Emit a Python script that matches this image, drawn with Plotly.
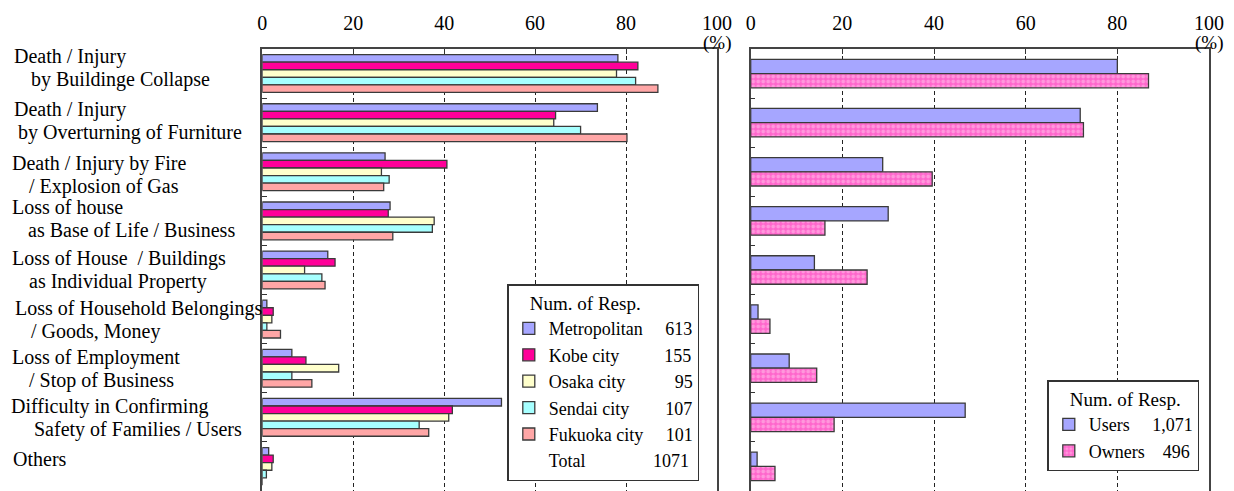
import plotly.graph_objects as go

# ---------------- data ----------------
label_line1 = ["Death / Injury", "Death / Injury", "Death / Injury by Fire", "Loss of house",
               "Loss of House\u00a0\u00a0/ Buildings", "Loss of Household Belongings",
               "Loss of Employment", "Difficulty in Confirming", "Others"]
label_line2 = ["by Buildinge Collapse", "by Overturning of Furniture", "/ Explosion of Gas",
               "as Base of Life / Business", "as Individual Property", "/ Goods, Money",
               "/ Stop of Business", "Safety of Families / Users", ""]

cities = ["Metropolitan", "Kobe city", "Osaka city", "Sendai city", "Fukuoka city"]
city_resp = ["613", "155", "95", "107", "101"]
total_resp = "1071"
metropolitan = [78.2, 73.7, 27.0, 28.1, 14.4, 1.0, 6.5, 52.6, 1.4]
kobe = [82.6, 64.5, 40.6, 27.7, 16.0, 2.4, 9.6, 41.8, 2.4]
osaka = [77.9, 64.1, 26.2, 37.8, 9.3, 2.1, 16.8, 41.0, 2.1]
sendai = [82.1, 70.0, 27.9, 37.4, 13.1, 1.0, 6.5, 34.5, 0.9]
fukuoka = [87.0, 80.2, 26.7, 28.7, 13.8, 4.0, 10.9, 36.6, 0.0]

groups = ["Users", "Owners"]
group_resp = ["1,071", "496"]
users = [80.0, 71.9, 28.8, 30.0, 13.9, 1.6, 8.4, 46.8, 1.4]
owners = [86.8, 72.6, 39.6, 16.2, 25.4, 4.2, 14.4, 18.2, 5.3]

x_ticks = [0, 20, 40, 60, 80, 100]

# ---------------- layout constants ----------------
W, H = 1234, 491
TOP = 49
FONT = "Liberation Serif, Times New Roman, serif"
NB = "\u00a0"

def px_x(px):
    return px / W

def px_y(py):
    return (H - py) / (H - TOP)

city_colors = ["#A6A6FF", "#FF0099", "#FFFFCC", "#A6FFFF", "#FFA6A6"]
city_pad = [5, 10, 11, 8, 5]
total_pad = 15
group_pad = [5, 4]
n_cat = len(label_line1)
ypos = list(range(n_cat))

fig = go.Figure()

city_values = [metropolitan, kobe, osaka, sendai, fukuoka]
bw_l = 0.154
for i, (name, vals) in enumerate(zip(cities, city_values)):
    fig.add_trace(go.Bar(
        x=vals, y=ypos, orientation="h", name=name + NB * city_pad[i] + city_resp[i],
        width=bw_l, offset=-0.385 + i * bw_l,
        marker=dict(color=city_colors[i], line=dict(color="#3a3a3a", width=1.3)),
        xaxis="x", yaxis="y", legend="legend",
    ))
# legend-only row for the total count
fig.add_trace(go.Bar(
    x=[None], y=[None], orientation="h", name="Total" + NB * total_pad + total_resp,
    marker=dict(color="rgba(0,0,0,0)", line=dict(width=0)), hoverinfo="skip",
    xaxis="x", yaxis="y", legend="legend",
))

bw_r = 0.29
fig.add_trace(go.Bar(
    x=users, y=ypos, orientation="h", name=groups[0] + NB * group_pad[0] + group_resp[0],
    width=bw_r, offset=-bw_r,
    marker=dict(color="#A6A6FF", line=dict(color="#3a3a3a", width=1.3)),
    xaxis="x2", yaxis="y2", legend="legend2",
))
fig.add_trace(go.Bar(
    x=owners, y=ypos, orientation="h", name=groups[1] + NB * group_pad[1] + group_resp[1],
    width=bw_r, offset=0,
    marker=dict(color="#FF70CC", line=dict(color="#3a3a3a", width=1.3),
                pattern=dict(shape=".", bgcolor="#FF66CC", fgcolor="#FFC8EC", size=5, solidity=0.45)),
    xaxis="x2", yaxis="y2", legend="legend2",
))

xaxis_common = dict(
    range=[0, 100], side="top", tickvals=x_ticks, ticks="inside", ticklen=5,
    tickcolor="#333", showline=True, linecolor="#444", linewidth=1.5, mirror=True,
    showgrid=True, gridcolor="#222", griddash="4px,3px", gridwidth=1,
    zeroline=False, tickfont=dict(family=FONT, size=20, color="black"),
    ticklabelstandoff=9, fixedrange=True, automargin=False,
)
yaxis_common = dict(
    range=[n_cat - 0.5, -0.5], tickvals=[k + 0.5 for k in range(n_cat - 1)],
    ticks="inside", ticklen=5, tickcolor="#333", showticklabels=False,
    showline=True, linecolor="#444", linewidth=1.5, mirror=True,
    showgrid=False, zeroline=False, domain=[0, 1], fixedrange=True, automargin=False,
)

fig.update_layout(
    width=W, height=H, margin=dict(l=0, r=0, t=TOP, b=0, pad=0, autoexpand=False),
    paper_bgcolor="white", plot_bgcolor="white", barmode="overlay",
    font=dict(family=FONT, size=18, color="black"),
    xaxis=dict(domain=[px_x(262.3), px_x(717.0)], anchor="y", **xaxis_common),
    yaxis=dict(anchor="x", **yaxis_common),
    xaxis2=dict(domain=[px_x(750.7), px_x(1209.0)], anchor="y2", **xaxis_common),
    yaxis2=dict(anchor="x2", **yaxis_common),
    legend=dict(
        x=px_x(507.3), y=px_y(284), xanchor="left", yanchor="top",
        bgcolor="white", bordercolor="#333", borderwidth=1.5,
        font=dict(family=FONT, size=18, color="black"),
        title=dict(text=NB * 4 + "Num. of Resp.", font=dict(family=FONT, size=19)),
        tracegroupgap=0, traceorder="normal",
    ),
    legend2=dict(
        x=px_x(1047.3), y=px_y(380), xanchor="left", yanchor="top",
        bgcolor="white", bordercolor="#333", borderwidth=1.5,
        font=dict(family=FONT, size=18, color="black"),
        title=dict(text=NB * 4 + "Num. of Resp.", font=dict(family=FONT, size=19)),
        tracegroupgap=0, traceorder="normal",
    ),
    showlegend=True,
)

# category labels (two lines each, left aligned)
line1_x = [14, 14, 12.3, 11.7, 12.3, 15, 12, 11, 12.7]
line2_x = [31, 18.3, 29.3, 28.3, 29.3, 30.7, 29, 34.3, 0]
label_dy = [-5.5, -1.6, 3.1, -2.3, 0.3, 0.9, 0.9, 0.3, -7.9]
for i in range(n_cat):
    two = bool(label_line2[i])
    half = 11.5 if two else 0
    fig.add_annotation(text=label_line1[i], xref="paper", yref="y", x=px_x(line1_x[i] - 2), y=i,
                       xanchor="left", yanchor="middle", showarrow=False,
                       yshift=-(label_dy[i] - half), font=dict(family=FONT, size=20, color="black"))
    if two:
        fig.add_annotation(text=label_line2[i], xref="paper", yref="y", x=px_x(line2_x[i] - 2), y=i,
                           xanchor="left", yanchor="middle", showarrow=False,
                           yshift=-(label_dy[i] + half), font=dict(family=FONT, size=20, color="black"))

for xr in ["x", "x2"]:
    fig.add_annotation(text="(%)", xref=xr, yref="paper", x=100, y=px_y(43),
                       xanchor="center", yanchor="middle", showarrow=False,
                       font=dict(family=FONT, size=19, color="black"))

fig.write_html("out.html", config={"displayModeBar": False},
               post_script="document.body.style.margin='0px';document.body.style.overflow='hidden';")
